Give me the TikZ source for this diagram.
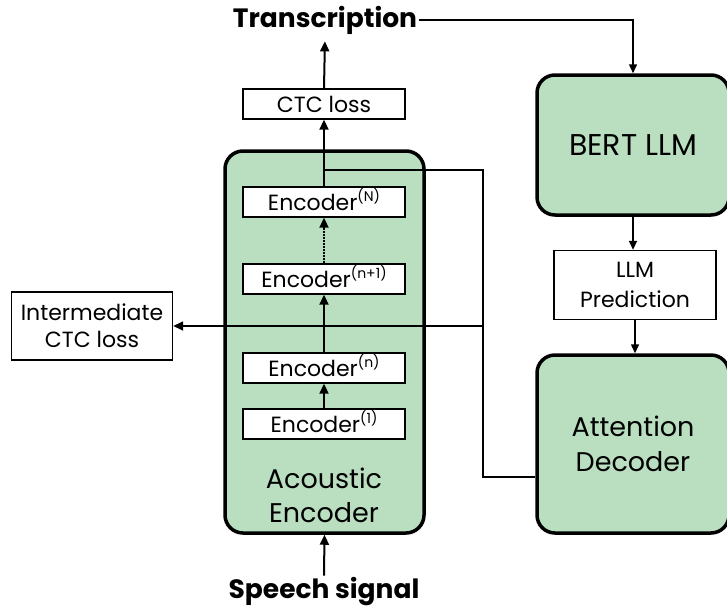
\documentclass[tikz,border=0pt]{standalone}
\usepackage{fontspec}
\setmainfont{Poppins}
\usepackage{tikz}
\usetikzlibrary{arrows.meta, positioning, calc}
\definecolor{encgreen}{RGB}{186,223,192}
\newcommand{\layerno}[1]{\smash{\raisebox{0.4em}{\fontsize{14}{14}\selectfont #1}}}
\tikzset{bigblock/.style={rectangle,draw,line width=3.5pt,fill=encgreen,rounded corners=18pt,align=center,font=\fontsize{27}{35}\selectfont},
         smallblock/.style={rectangle,draw,line width=1.4pt,fill=white,minimum width=162pt,minimum height=30pt,inner sep=0pt,align=center,font=\fontsize{22}{27}\selectfont},
         title/.style={font=\bfseries\fontsize{26.5}{30}\selectfont,inner sep=2pt},
         arrow/.style={-{Triangle[length=10pt,width=9pt]},line width=2pt},
         thinarrow/.style={-{Triangle[length=9pt,width=8pt]},line width=1.5pt},
         link/.style={line width=1.5pt}}

\begin{document}
\begin{tikzpicture}[x=1pt,y=-1pt]
    \useasboundingbox (0,0) rectangle (727,611);
    % acoustic encoder
    \node (acbox) [bigblock, minimum width=199pt, minimum height=382pt] at (324.5,342) {};
    \node (actext) [font=\fontsize{27}{34}\selectfont,align=center] at (324,495) {Acoustic\\Encoder};
    \node (enc1) [smallblock] at (324,424) {Encoder\layerno{(1)}};
    \node (encn) [smallblock] at (324,368) {Encoder\layerno{(n)}};
    \node (encn1) [smallblock] at (324,279) {Encoder\layerno{(n+1)}};
    \node (encN) [smallblock] at (324,202) {Encoder\layerno{(N)}};
    \node (ctc) [smallblock] at (324,104) {CTC loss};
    \node (inter) [smallblock, minimum width=161pt, minimum height=68pt, font=\fontsize{22}{27}\selectfont] at (92,326) {Intermediate\\CTC loss};
    \node (trans) [title] at (325,20) {Transcription};
    \node (speech) [title] at (324,592) {Speech signal};
    % right side
    \node (bert) [bigblock, minimum width=192pt, minimum height=140pt, font=\fontsize{30}{35}\selectfont] at (633,145) {BERT LLM};
    \node (pred) [smallblock, minimum width=162pt, minimum height=69pt, font=\fontsize{22}{30}\selectfont] at (635,285) {LLM\\Prediction};
    \node (attdec) [bigblock, minimum width=192pt, minimum height=178pt] at (633,444) {Attention\\Decoder};
    \coordinate (tap) at (324,170);
    \coordinate (turn) at (483,477);
    \draw[arrow] (speech.north) -- (acbox.south);
    \draw[arrow] (enc1.north) -- (encn.south);
    \draw[arrow] (encn.north) -- (encn1.south);
    \draw[arrow, densely dotted] (encn1.north) -- (encN.south);
    \draw[arrow] (encN.north) -- (ctc.south);
    \draw[arrow, shorten >=5pt] (ctc.north) -- (trans.south);
    \draw[link] (tap) -- (tap -| turn) -- (turn) -- (turn -| attdec.west);
    \draw[arrow, line width=1.5pt] (turn |- inter.east) -- (inter.east);
    \draw[thinarrow] (trans.east) -| (bert.north);
    \draw[thinarrow] (bert.south) -- (bert.south |- pred.north);
    \draw[thinarrow] (pred.south) -- (pred.south |- attdec.north);
  \end{tikzpicture}
\end{document}
